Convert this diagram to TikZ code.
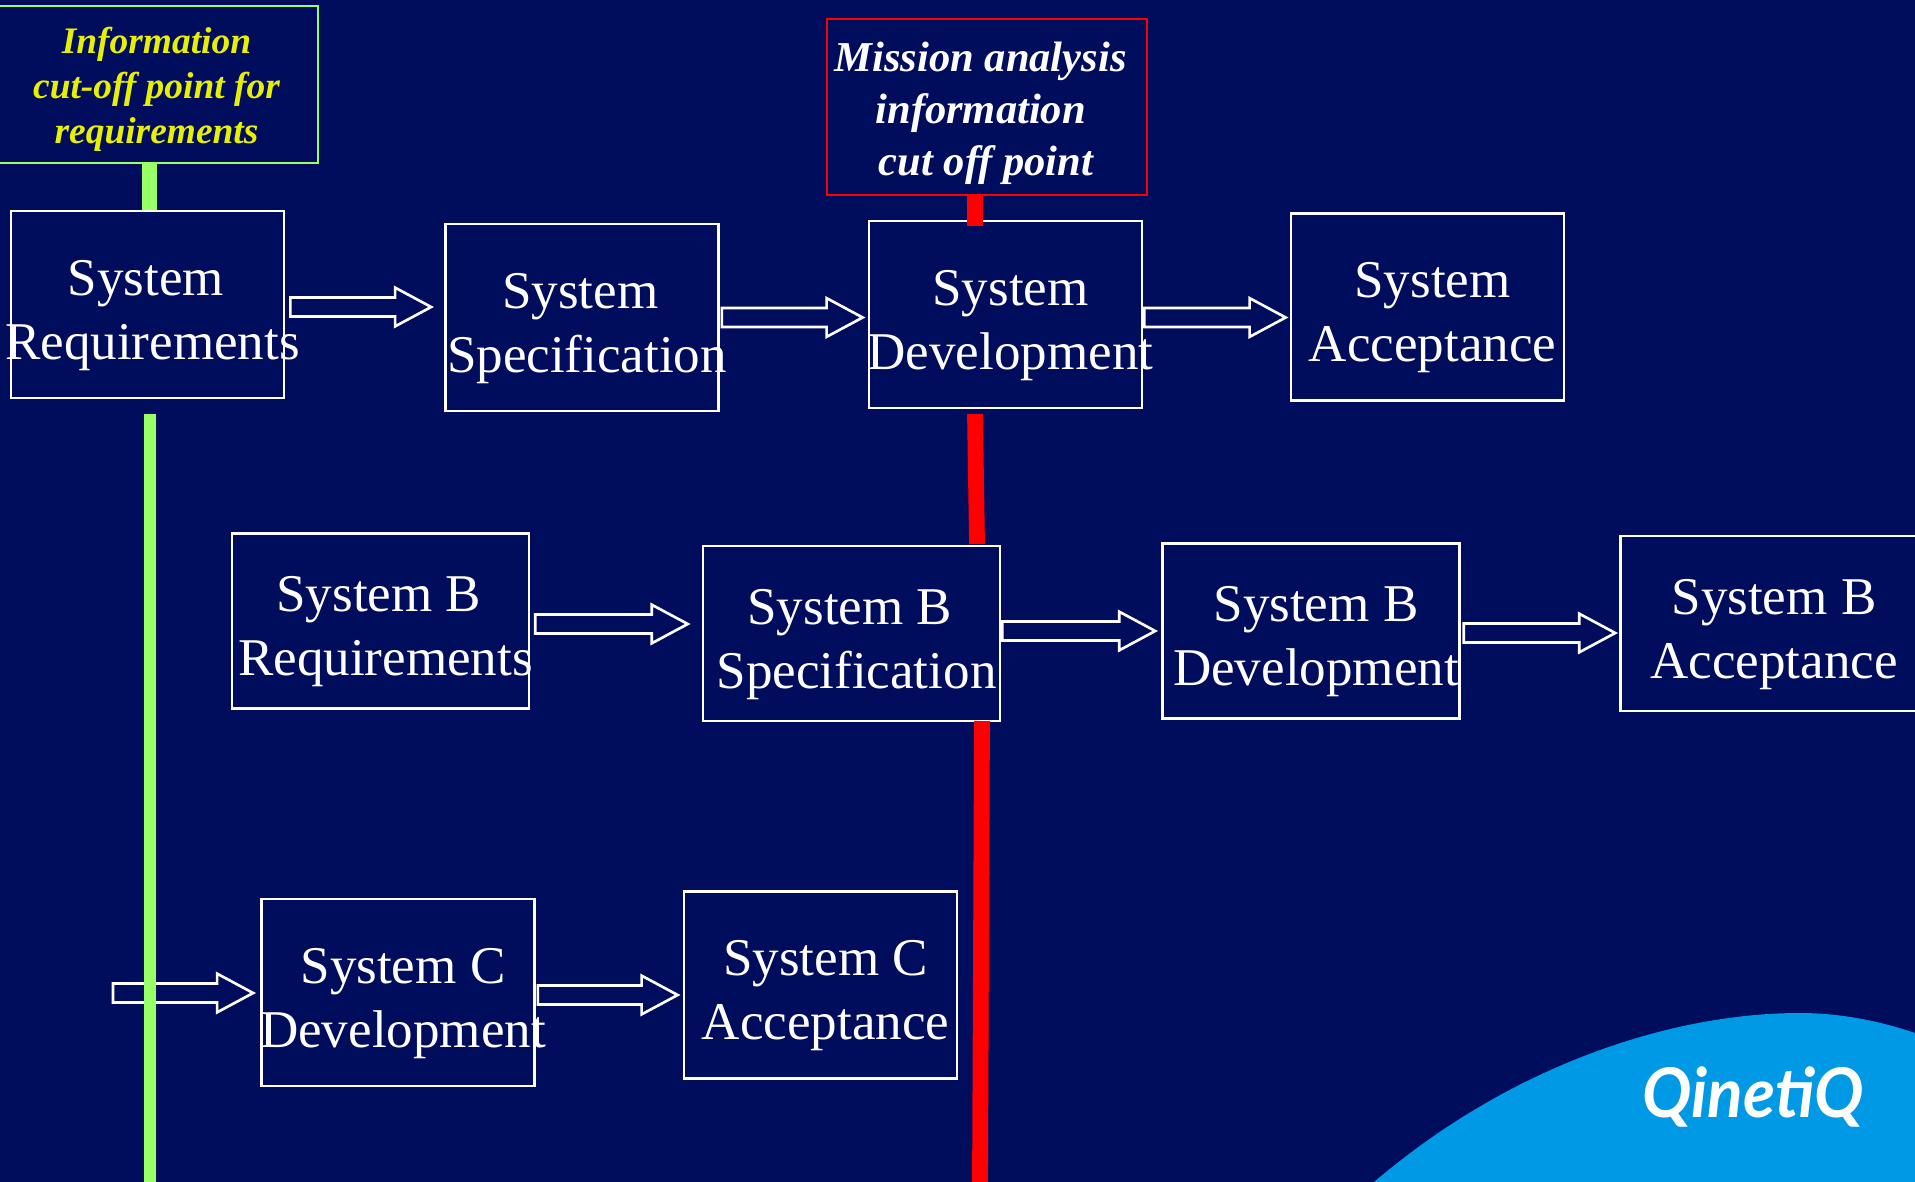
\documentclass[tikz,border=0pt]{standalone}
\usepackage{fontspec}
\usetikzlibrary{calc}
\setmainfont{Liberation Serif}
\newfontfamily\logofont{Lato}
\definecolor{slidebg}{HTML}{000C5C}
\definecolor{slidegreen}{HTML}{99FF66}
\definecolor{slideyellow}{HTML}{E6F000}
\definecolor{logoblue}{HTML}{0099E6}
\newcommand{\pad}{\ \null}
\tikzset{
  sysbox/.style={draw=white, line width=1.5pt, inner sep=0pt},
  sizeA/.style={minimum width=155.4pt, minimum height=106.4pt},
  sizeB/.style={minimum width=169pt, minimum height=99.6pt},
  systext/.style={text=white, align=center, inner sep=0pt, font=\fontsize{30.2}{36.5}\selectfont},
  notebox/.style={line width=1.5pt, inner sep=0pt},
  notetext/.style={align=center, inner sep=0pt},
  flowarrow/.style={draw=white, line width=1.5pt, fill=slidebg, to path={
    let \p1=(\tikztostart), \p2=(\tikztotarget) in
    (\x1,\y1+5.4pt) -- (\x2-20.5pt,\y1+5.4pt) -- (\x2-20.5pt,\y1+11pt) -- (\x2,\y1)
    -- (\x2-20.5pt,\y1-11pt) -- (\x2-20.5pt,\y1-5.4pt) -- (\x1,\y1-5.4pt) -- cycle}}
}
\begin{document}
\begin{tikzpicture}[x=0.02cm, y=-0.02cm]
\useasboundingbox (0,0) rectangle (1915,1182);
\clip (0,0) rectangle (1915,1182);
\fill[slidebg] (0,0) rectangle (1915,1182);

% Logo
\fill[logoblue] (1374,1182) .. controls (1510,1066) and (1670,1013) .. (1800,1013)
  .. controls (1840,1013) and (1880,1021) .. (1915,1033) -- (1915,1182) -- cycle;
\node[text=white, inner sep=0pt, xscale=0.96, transform shape, font=\logofont\bfseries\itshape\fontsize{39}{39}\selectfont] (logo) at (1753,1097) {QinetiQ};

% Note boxes
\node[notebox, draw=slidegreen, minimum width=183.9pt, minimum height=89.4pt] (infobox) at (156.5,84.5) {};
\node[notebox, draw=red, minimum width=182.1pt, minimum height=100pt] (missionbox) at (987,107) {};

% Top row
\node[sysbox, sizeA] (sysreq) at (147.5,304.5) {};
\node[sysbox, sizeA] (sysspec) at (582,317.5) {};
\node[sysbox, sizeA] (sysdev) at (1005.5,314.5) {};
\node[sysbox, sizeA] (sysacc) at (1427.5,307) {};

% Row B
\node[sysbox, sizeB] (brow1) at (380.5,621) {};
\node[sysbox, sizeB] (brow2) at (851.5,633.5) {};
\node[sysbox, sizeB] (brow3) at (1311,631) {};
\node[sysbox, sizeB] (brow4) at (1769,623.5) {};

% Row C
\node[sysbox, sizeA] (crow1) at (398,992.5) {};
\node[sysbox, sizeA] (crow2) at (820.5,985) {};
\coordinate (cstart) at (113,993);

% Labels
\node[notetext, text=slideyellow, font=\bfseries\itshape\fontsize{21.3}{25.6}\selectfont] (infotxt) at (156.5,89.5) {Information\\cut-off point for\\requirements};
\node[notetext, text=white, font=\bfseries\itshape\fontsize{24.2}{29.6}\selectfont] (missiontxt) at (986,113) {Mission analysis\pad\\information\pad\\cut off point};
\foreach \name/\first/\second in {sysreq/System\pad/Requirements, sysspec/System\pad/Specification, sysdev/System/Development, sysacc/System/Acceptance, brow1/System B\pad/Requirements, brow2/System B\pad/Specification, brow3/System B/Development, brow4/System B/Acceptance, crow1/System C/Development, crow2/System C/Acceptance}
  \node[systext] (\name txt) at ([shift={(5,11)}]\name.center) {\first\\\second};

% Arrows
\draw[flowarrow] ([shift={(5,2.5)}]sysreq.east) to ([shift={(-13,0)}]sysspec.west);
\draw[flowarrow] ([shift={(2,0)}]sysspec.east) to ([shift={(-5,0)}]sysdev.west);
\draw[flowarrow] ([shift={(1,3)}]sysdev.east) to ([shift={(-4,0)}]sysacc.west);
\draw[flowarrow] ([shift={(5,3)}]brow1.east) to ([shift={(-14,0)}]brow2.west);
\draw[flowarrow] ([shift={(1,-2.5)}]brow2.east) to ([shift={(-6,0)}]brow3.west);
\draw[flowarrow] ([shift={(3,2)}]brow3.east) to ([shift={(-4,0)}]brow4.west);
\draw[flowarrow] (cstart) to ([shift={(-7,0)}]crow1.west);
\draw[flowarrow] ([shift={(2,2.5)}]crow1.east) to ([shift={(-5,0)}]crow2.west);

% Cut-off lines
\coordinate (greentop) at (150,414);
\coordinate (greenbot) at (150,1182);
\coordinate (redtop) at (975,414);
\coordinate (redmid) at (977,544);
\coordinate (redlow) at (982,721);
\coordinate (redbot) at (980,1182);
\draw[slidegreen, line width=7.2pt] (greentop) -- (greenbot);
\draw[red, line width=9pt] (redtop) -- (redmid);
\draw[red, line width=9pt] (redlow) -- (redbot);
\draw[slidegreen, line width=8.5pt] (infobox.south -| 149.5,0) -- (sysreq.north -| 149.5,0);
\draw[red, line width=9pt] (missionbox.south -| 975,0) -- ([yshift=-3.4pt]sysdev.north -| 975,0);
\end{tikzpicture}
\end{document}
